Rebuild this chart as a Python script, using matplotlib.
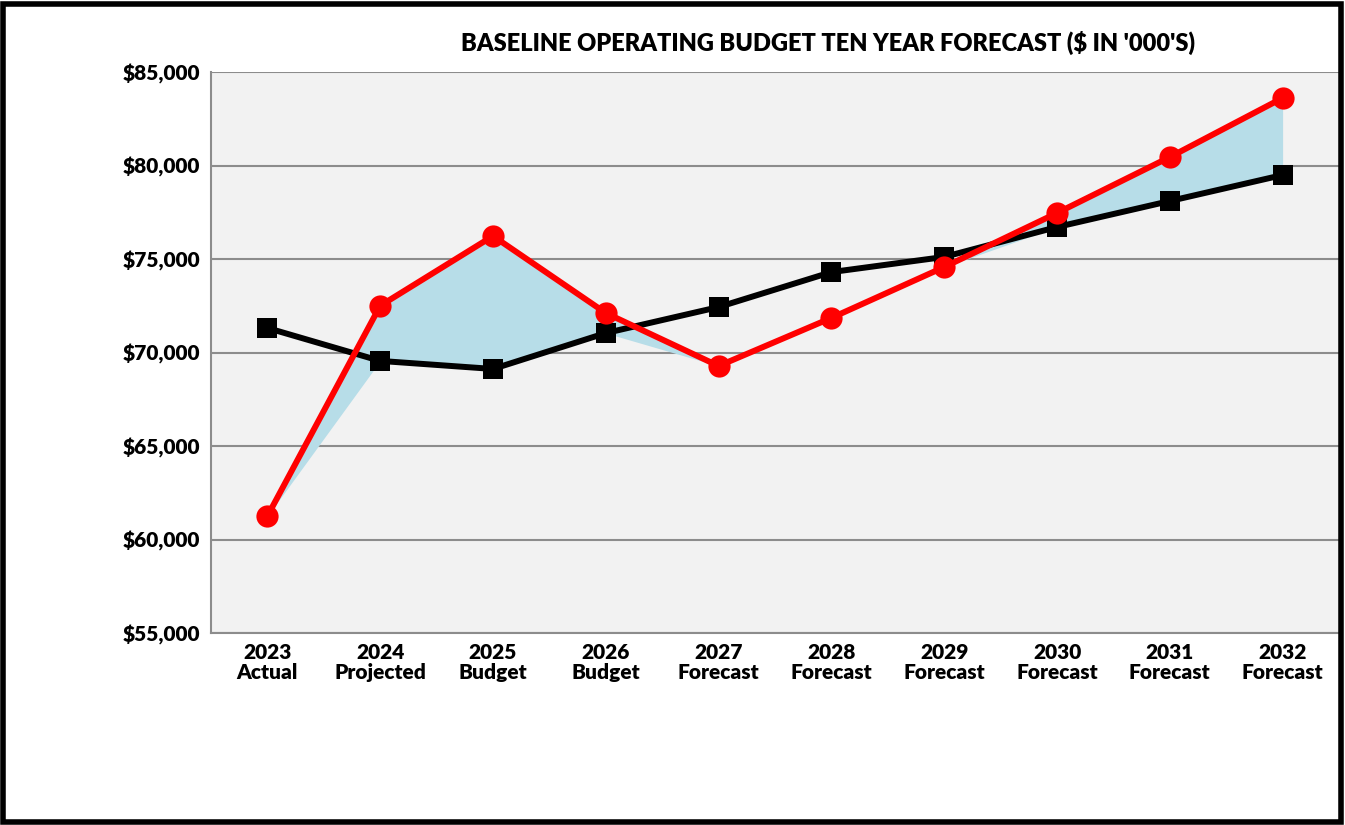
import matplotlib
matplotlib.use("Agg")
import matplotlib.pyplot as plt
from matplotlib.patches import Rectangle
from matplotlib.ticker import FuncFormatter
import numpy as np

years = ["2023", "2024", "2025", "2026", "2027", "2028", "2029", "2030", "2031", "2032"]
stages = ["Actual", "Projected", "Budget", "Budget", "Forecast", "Forecast",
          "Forecast", "Forecast", "Forecast", "Forecast"]
revenues = [61250, 72500, 76230, 72110, 69280, 71850, 74570, 77460, 80450, 83610]
expenses = [71310, 69550, 69120, 71040, 72430, 74300, 75110, 76710, 78100, 79490]
y_ticks = [55000, 60000, 65000, 70000, 75000, 80000, 85000]

plt.rcParams["font.family"] = ["Lato", "DejaVu Sans"]
WEIGHT = "heavy"

fig = plt.figure(figsize=(13.45, 8.25), dpi=100)
ax = fig.add_axes([211 / 1345, 1 - 633 / 825, (1339 - 211) / 1345, (633 - 72) / 825])
ax.set_facecolor("#F2F2F2")

x = np.arange(len(years))
rev = np.array(revenues, dtype=float)
exp = np.array(expenses, dtype=float)

# shaded gap where revenue runs above expenses
ax.fill_between(x, np.minimum(rev, exp), rev, color="#B7DDE8", linewidth=0, zorder=2)

ax.plot(x, exp, color="black", linewidth=4.3, marker="s", markersize=15,
        markeredgewidth=0, zorder=3)
ax.plot(x, rev, color="#FF0000", linewidth=4.3, marker="o", markersize=16,
        markeredgewidth=0, zorder=4)

ax.set_xlim(-0.5, len(years) - 0.5)
ax.set_ylim(y_ticks[0], y_ticks[-1])
ax.set_yticks(y_ticks)
ax.yaxis.set_major_formatter(FuncFormatter(lambda v, p: f"${v:,.0f}"))
ax.set_xticks(x)
ax.set_xticklabels([f"{y}\n{s}" for y, s in zip(years, stages)], linespacing=1.1)
ax.tick_params(axis="both", length=0, labelsize=15)
ax.tick_params(axis="y", pad=8)
ax.tick_params(axis="x", pad=7)
for lab in ax.get_xticklabels() + ax.get_yticklabels():
    lab.set_fontweight(WEIGHT)

ax.grid(axis="y", color="#8C8C8C", linewidth=1.5, zorder=1)
ax.set_axisbelow(True)
for side in ["top", "right"]:
    ax.spines[side].set_visible(False)
for side in ["left", "bottom"]:
    ax.spines[side].set_color("#8C8C8C")
    ax.spines[side].set_linewidth(1.5)

fig.text(828 / 1345, 1 - 43 / 825, "BASELINE OPERATING BUDGET TEN YEAR FORECAST ($ IN '000'S)",
         ha="center", va="center", fontsize=17, fontweight=WEIGHT)

# outer frame around the whole chart
fig.patches.append(Rectangle((3 / 1345, 3 / 825), 1 - 7 / 1345, 1 - 7 / 825,
                             transform=fig.transFigure, fill=False,
                             edgecolor="black", linewidth=4, zorder=10))

fig.savefig("out.png", dpi=100)
